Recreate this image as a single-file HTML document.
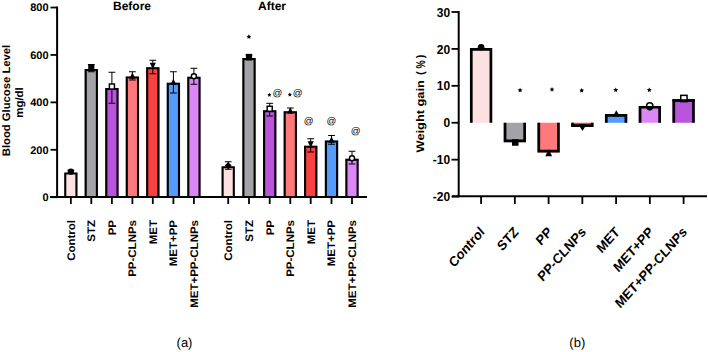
<!DOCTYPE html>
<html><head><meta charset="utf-8"><style>
html,body{margin:0;padding:0;background:#fff;}
svg{display:block;font-family:"Liberation Sans", sans-serif;text-rendering:geometricPrecision;}
</style></head><body>
<svg width="708" height="352" viewBox="0 0 708 352" font-family='"Liberation Sans", sans-serif'>
<rect width="708" height="352" fill="#fff"/>
<rect x="64.20" y="172.50" width="13.30" height="24.60" fill="#fde0e1"/><path d="M65.25 197.10V173.55H76.45V197.10" fill="none" stroke="#000" stroke-width="2.1" stroke-linejoin="miter"/>
<rect x="84.65" y="69.00" width="13.30" height="128.10" fill="#a3a2a7"/><path d="M85.70 197.10V70.05H96.90V197.10" fill="none" stroke="#000" stroke-width="2.1" stroke-linejoin="miter"/>
<rect x="105.25" y="88.00" width="13.30" height="109.10" fill="#b954dc"/><path d="M106.30 197.10V89.05H117.50V197.10" fill="none" stroke="#000" stroke-width="2.1" stroke-linejoin="miter"/>
<rect x="125.75" y="76.50" width="13.30" height="120.60" fill="#ff797c"/><path d="M126.80 197.10V77.55H138.00V197.10" fill="none" stroke="#000" stroke-width="2.1" stroke-linejoin="miter"/>
<rect x="146.15" y="67.25" width="13.30" height="129.85" fill="#f94141"/><path d="M147.20 197.10V68.30H158.40V197.10" fill="none" stroke="#000" stroke-width="2.1" stroke-linejoin="miter"/>
<rect x="166.75" y="82.75" width="13.30" height="114.35" fill="#549bfb"/><path d="M167.80 197.10V83.80H179.00V197.10" fill="none" stroke="#000" stroke-width="2.1" stroke-linejoin="miter"/>
<rect x="187.25" y="76.75" width="13.30" height="120.35" fill="#db87f6"/><path d="M188.30 197.10V77.80H199.50V197.10" fill="none" stroke="#000" stroke-width="2.1" stroke-linejoin="miter"/>
<rect x="221.55" y="166.25" width="13.30" height="30.85" fill="#fde0e1"/><path d="M222.60 197.10V167.30H233.80V197.10" fill="none" stroke="#000" stroke-width="2.1" stroke-linejoin="miter"/>
<rect x="242.35" y="57.95" width="13.30" height="139.15" fill="#a3a2a7"/><path d="M243.40 197.10V59.00H254.60V197.10" fill="none" stroke="#000" stroke-width="2.1" stroke-linejoin="miter"/>
<rect x="263.05" y="110.25" width="13.30" height="86.85" fill="#b954dc"/><path d="M264.10 197.10V111.30H275.30V197.10" fill="none" stroke="#000" stroke-width="2.1" stroke-linejoin="miter"/>
<rect x="283.65" y="111.25" width="13.30" height="85.85" fill="#ff797c"/><path d="M284.70 197.10V112.30H295.90V197.10" fill="none" stroke="#000" stroke-width="2.1" stroke-linejoin="miter"/>
<rect x="304.05" y="145.75" width="13.30" height="51.35" fill="#f94141"/><path d="M305.10 197.10V146.80H316.30V197.10" fill="none" stroke="#000" stroke-width="2.1" stroke-linejoin="miter"/>
<rect x="324.85" y="140.50" width="13.30" height="56.60" fill="#549bfb"/><path d="M325.90 197.10V141.55H337.10V197.10" fill="none" stroke="#000" stroke-width="2.1" stroke-linejoin="miter"/>
<rect x="345.35" y="158.75" width="13.30" height="38.35" fill="#db87f6"/><path d="M346.40 197.10V159.80H357.60V197.10" fill="none" stroke="#000" stroke-width="2.1" stroke-linejoin="miter"/>
<path d="M70.85 170.2V173M67.44999999999999 170.2H74.25M67.44999999999999 173H74.25" stroke="#000" stroke-width="1" fill="none"/>
<circle cx="70.85" cy="171.6" r="3.1" fill="#000"/>
<path d="M91.3 64.5V71.75M87.89999999999999 64.5H94.7M87.89999999999999 71.75H94.7" stroke="#000" stroke-width="1" fill="none"/>
<rect x="88.2" y="64.9" width="6.2" height="6.2" fill="#000"/>
<path d="M111.9 72.25V103.25M108.5 72.25H115.30000000000001M108.5 103.25H115.30000000000001" stroke="#000" stroke-width="1" fill="none"/>
<rect x="109.375" y="83.975" width="5.05" height="5.05" fill="#fff" stroke="#000" stroke-width="1.45"/>
<path d="M132.4 71.75V80M129.0 71.75H135.8M129.0 80H135.8" stroke="#000" stroke-width="1" fill="none"/>
<path d="M129.3 78.69000000000001L135.5 78.69000000000001L132.4 72.49000000000001Z" fill="#000"/>
<path d="M152.8 60.25V73.75M149.4 60.25H156.20000000000002M149.4 73.75H156.20000000000002" stroke="#000" stroke-width="1" fill="none"/>
<path d="M149.70000000000002 62.86000000000001L155.9 62.86000000000001L152.8 69.06Z" fill="#000"/>
<path d="M173.4 71.75V93M170.0 71.75H176.8M170.0 93H176.8" stroke="#000" stroke-width="1" fill="none"/>
<path d="M170.3 84.94000000000001L176.5 84.94000000000001L173.4 78.74000000000001Z" fill="#000"/>
<path d="M193.9 68.25V84.25M190.5 68.25H197.3M190.5 84.25H197.3" stroke="#000" stroke-width="1" fill="none"/>
<circle cx="193.9" cy="76.25" r="2.525" fill="#fff" stroke="#000" stroke-width="1.45"/>
<path d="M228.2 161.75V169.25M224.79999999999998 161.75H231.6M224.79999999999998 169.25H231.6" stroke="#000" stroke-width="1" fill="none"/>
<path d="M224.79999999999998 165.55L228.2 161.95000000000002L231.6 165.55L228.2 169.15Z" fill="#000"/>
<path d="M249.0 55V60M245.6 55H252.4M245.6 60H252.4" stroke="#000" stroke-width="1" fill="none"/>
<rect x="245.9" y="53.85" width="6.2" height="6.2" fill="#000"/>
<path d="M269.7 103.3V116M266.3 103.3H273.09999999999997M266.3 116H273.09999999999997" stroke="#000" stroke-width="1" fill="none"/>
<rect x="267.175" y="106.225" width="5.05" height="5.05" fill="#fff" stroke="#000" stroke-width="1.45"/>
<path d="M290.3 108V113M286.90000000000003 108H293.7M286.90000000000003 113H293.7" stroke="#000" stroke-width="1" fill="none"/>
<path d="M287.2 113.44000000000001L293.40000000000003 113.44000000000001L290.3 107.24000000000001Z" fill="#000"/>
<path d="M310.7 138.75V152M307.3 138.75H314.09999999999997M307.3 152H314.09999999999997" stroke="#000" stroke-width="1" fill="none"/>
<path d="M307.59999999999997 141.36L313.8 141.36L310.7 147.56Z" fill="#000"/>
<path d="M331.5 135.5V144.25M328.1 135.5H334.9M328.1 144.25H334.9" stroke="#000" stroke-width="1" fill="none"/>
<path d="M328.4 142.69L334.6 142.69L331.5 136.49Z" fill="#000"/>
<path d="M352.0 151.25V164M348.6 151.25H355.4M348.6 164H355.4" stroke="#000" stroke-width="1" fill="none"/>
<circle cx="352.0" cy="158.25" r="2.525" fill="#fff" stroke="#000" stroke-width="1.45"/>
<path d="M57.1 6.5V198.1" stroke="#000" stroke-width="2" fill="none"/>
<path d="M50 197.1H367" stroke="#000" stroke-width="2" fill="none"/>
<path d="M50.5 7.52H57" stroke="#000" stroke-width="1.8"/>
<text x="48.6" y="11.42" text-anchor="end" font-size="11" font-weight="bold">800</text>
<path d="M50.5 54.94H57" stroke="#000" stroke-width="1.8"/>
<text x="48.6" y="58.84" text-anchor="end" font-size="11" font-weight="bold">600</text>
<path d="M50.5 102.36H57" stroke="#000" stroke-width="1.8"/>
<text x="48.6" y="106.26" text-anchor="end" font-size="11" font-weight="bold">400</text>
<path d="M50.5 149.78H57" stroke="#000" stroke-width="1.8"/>
<text x="48.6" y="153.68" text-anchor="end" font-size="11" font-weight="bold">200</text>
<path d="M50.5 197.20H57" stroke="#000" stroke-width="1.8"/>
<text x="48.6" y="201.10" text-anchor="end" font-size="11" font-weight="bold">0</text>
<path d="M70.85 197.1V204" stroke="#000" stroke-width="1.8"/>
<path d="M91.3 197.1V204" stroke="#000" stroke-width="1.8"/>
<path d="M111.9 197.1V204" stroke="#000" stroke-width="1.8"/>
<path d="M132.4 197.1V204" stroke="#000" stroke-width="1.8"/>
<path d="M152.8 197.1V204" stroke="#000" stroke-width="1.8"/>
<path d="M173.4 197.1V204" stroke="#000" stroke-width="1.8"/>
<path d="M193.9 197.1V204" stroke="#000" stroke-width="1.8"/>
<path d="M228.2 197.1V204" stroke="#000" stroke-width="1.8"/>
<path d="M249.0 197.1V204" stroke="#000" stroke-width="1.8"/>
<path d="M269.7 197.1V204" stroke="#000" stroke-width="1.8"/>
<path d="M290.3 197.1V204" stroke="#000" stroke-width="1.8"/>
<path d="M310.7 197.1V204" stroke="#000" stroke-width="1.8"/>
<path d="M331.5 197.1V204" stroke="#000" stroke-width="1.8"/>
<path d="M352.0 197.1V204" stroke="#000" stroke-width="1.8"/>
<text transform="translate(74.75,220) scale(1,1.045) rotate(-90)" text-anchor="end" font-size="11" font-weight="bold">Control</text>
<text transform="translate(95.20,220) scale(1,1.045) rotate(-90)" text-anchor="end" font-size="11" font-weight="bold">STZ</text>
<text transform="translate(115.80,220) scale(1,1.045) rotate(-90)" text-anchor="end" font-size="11" font-weight="bold">PP</text>
<text transform="translate(136.30,220) scale(1,1.045) rotate(-90)" text-anchor="end" font-size="11" font-weight="bold">PP-CLNPs</text>
<text transform="translate(156.70,220) scale(1,1.045) rotate(-90)" text-anchor="end" font-size="11" font-weight="bold">MET</text>
<text transform="translate(177.30,220) scale(1,1.045) rotate(-90)" text-anchor="end" font-size="11" font-weight="bold">MET+PP</text>
<text transform="translate(197.80,220) scale(1,1.045) rotate(-90)" text-anchor="end" font-size="11" font-weight="bold">MET+PP-CLNPs</text>
<text transform="translate(232.10,220) scale(1,1.045) rotate(-90)" text-anchor="end" font-size="11" font-weight="bold">Control</text>
<text transform="translate(252.90,220) scale(1,1.045) rotate(-90)" text-anchor="end" font-size="11" font-weight="bold">STZ</text>
<text transform="translate(273.60,220) scale(1,1.045) rotate(-90)" text-anchor="end" font-size="11" font-weight="bold">PP</text>
<text transform="translate(294.20,220) scale(1,1.045) rotate(-90)" text-anchor="end" font-size="11" font-weight="bold">PP-CLNPs</text>
<text transform="translate(314.60,220) scale(1,1.045) rotate(-90)" text-anchor="end" font-size="11" font-weight="bold">MET</text>
<text transform="translate(335.40,220) scale(1,1.045) rotate(-90)" text-anchor="end" font-size="11" font-weight="bold">MET+PP</text>
<text transform="translate(355.90,220) scale(1,1.045) rotate(-90)" text-anchor="end" font-size="11" font-weight="bold">MET+PP-CLNPs</text>
<text x="132" y="10" text-anchor="middle" font-size="12" font-weight="bold">Before</text>
<text x="272" y="10" text-anchor="middle" font-size="12" font-weight="bold">After</text>
<polygon points="248.90,34.20 249.63,35.69 251.28,35.93 250.09,37.09 250.37,38.72 248.90,37.95 247.43,38.72 247.71,37.09 246.52,35.93 248.17,35.69" fill="#000"/>
<polygon points="269.35,92.75 270.00,94.06 271.44,94.27 270.40,95.29 270.64,96.73 269.35,96.05 268.06,96.73 268.30,95.29 267.26,94.27 268.70,94.06" fill="#000"/>
<polygon points="289.85,92.40 290.50,93.71 291.94,93.92 290.90,94.94 291.14,96.38 289.85,95.70 288.56,96.38 288.80,94.94 287.76,93.92 289.20,93.71" fill="#000"/>
<text x="277.4" y="96.0" text-anchor="middle" font-size="9.7">@</text>
<text x="297.75" y="96.0" text-anchor="middle" font-size="9.7">@</text>
<text x="308.6" y="123.5" text-anchor="middle" font-size="9.7">@</text>
<text x="331.3" y="123.5" text-anchor="middle" font-size="9.7">@</text>
<text x="355.6" y="134.4" text-anchor="middle" font-size="9.7">@</text>
<text transform="translate(9.5,100.5) scale(1,1.025) rotate(-90)" text-anchor="middle" font-size="11" font-weight="bold">Blood Glucose Level</text>
<text transform="translate(22.7,102.5) scale(1,1.04) rotate(-90)" text-anchor="middle" font-size="11" font-weight="bold">mg/dl</text>
<rect x="469.95" y="48.10" width="22.30" height="74.65" fill="#fde0e1"/><path d="M471.30 122.75V49.45H490.90V122.75" fill="none" stroke="#000" stroke-width="2.7" stroke-linejoin="miter"/>
<rect x="503.70" y="122.75" width="22.30" height="19.50" fill="#a3a2a7"/><path d="M505.05 122.75V140.90H524.65V122.75" fill="none" stroke="#000" stroke-width="2.7" stroke-linejoin="miter"/>
<rect x="537.45" y="122.75" width="22.30" height="29.75" fill="#ff797c"/><path d="M538.80 122.75V151.15H558.40V122.75" fill="none" stroke="#000" stroke-width="2.7" stroke-linejoin="miter"/>
<rect x="571.20" y="122.75" width="22.30" height="4.25" fill="#f94141"/><path d="M572.55 122.75V125.65H592.15V122.75" fill="none" stroke="#000" stroke-width="2.7" stroke-linejoin="miter"/>
<rect x="604.95" y="114.10" width="22.30" height="8.65" fill="#549bfb"/><path d="M606.30 122.75V115.45H625.90V122.75" fill="none" stroke="#000" stroke-width="2.7" stroke-linejoin="miter"/>
<rect x="638.70" y="105.90" width="22.30" height="16.85" fill="#db87f6"/><path d="M640.05 122.75V107.25H659.65V122.75" fill="none" stroke="#000" stroke-width="2.7" stroke-linejoin="miter"/>
<rect x="672.45" y="99.25" width="22.30" height="23.50" fill="#b954dc"/><path d="M673.80 122.75V100.60H693.40V122.75" fill="none" stroke="#000" stroke-width="2.7" stroke-linejoin="miter"/>
<circle cx="481.1" cy="47.3" r="3.3" fill="#000"/>
<rect x="512.0" y="139.25" width="6.5" height="6.5" fill="#000"/>
<path d="M545.3 156.3H552.1L548.7 149Z" fill="#000"/>
<path d="M578.1 124.1H586.9L582.5 130.9Z" fill="#000"/>
<path d="M612.8 116.5H619.8L616.3 110.3Z" fill="#000"/>
<circle cx="649.75" cy="105.9" r="3.15" fill="#fff" stroke="#000" stroke-width="1.5"/>
<path d="M646.8 106H652.7V108.2A3 3 0 0 1 646.8 108.2Z" fill="#000"/>
<path d="M639.2 105.90" />
<rect x="680.75" y="95.35" width="6.3" height="6.3" fill="#fff" stroke="#000" stroke-width="1.5"/>
<path d="M672.5 100.5H694.75" stroke="#000" stroke-width="2.5"/>
<path d="M458.7 11V197.2" stroke="#000" stroke-width="2" fill="none"/>
<path d="M452 196.25H707" stroke="#000" stroke-width="2" fill="none"/>
<path d="M451.5 11.99H458.7" stroke="#000" stroke-width="1.8"/>
<text transform="translate(450.2,11.99) scale(1,1.08)" x="0" y="4.3" text-anchor="end" font-size="12" font-weight="bold">30</text>
<path d="M451.5 48.91H458.7" stroke="#000" stroke-width="1.8"/>
<text transform="translate(450.2,48.91) scale(1,1.08)" x="0" y="4.3" text-anchor="end" font-size="12" font-weight="bold">20</text>
<path d="M451.5 85.83H458.7" stroke="#000" stroke-width="1.8"/>
<text transform="translate(450.2,85.83) scale(1,1.08)" x="0" y="4.3" text-anchor="end" font-size="12" font-weight="bold">10</text>
<path d="M451.5 122.75H458.7" stroke="#000" stroke-width="1.8"/>
<text transform="translate(450.2,122.75) scale(1,1.08)" x="0" y="4.3" text-anchor="end" font-size="12" font-weight="bold">0</text>
<path d="M451.5 159.67H458.7" stroke="#000" stroke-width="1.8"/>
<text transform="translate(450.2,159.67) scale(1,1.08)" x="0" y="4.3" text-anchor="end" font-size="12" font-weight="bold">-10</text>
<path d="M451.5 196.59H458.7" stroke="#000" stroke-width="1.8"/>
<text transform="translate(450.2,196.59) scale(1,1.08)" x="0" y="4.3" text-anchor="end" font-size="12" font-weight="bold">-20</text>
<path d="M481.10 196.25V204" stroke="#000" stroke-width="1.8"/>
<path d="M514.85 196.25V204" stroke="#000" stroke-width="1.8"/>
<path d="M548.60 196.25V204" stroke="#000" stroke-width="1.8"/>
<path d="M582.35 196.25V204" stroke="#000" stroke-width="1.8"/>
<path d="M616.10 196.25V204" stroke="#000" stroke-width="1.8"/>
<path d="M649.85 196.25V204" stroke="#000" stroke-width="1.8"/>
<path d="M683.60 196.25V204" stroke="#000" stroke-width="1.8"/>
<text transform="translate(485.30,232.8) scale(1,1.13) rotate(-45)" text-anchor="end" font-size="12.5" font-weight="bold">Control</text>
<text transform="translate(519.05,232.8) scale(1,1.13) rotate(-45)" text-anchor="end" font-size="12.5" font-weight="bold">STZ</text>
<text transform="translate(552.80,232.8) scale(1,1.13) rotate(-45)" text-anchor="end" font-size="12.5" font-weight="bold">PP</text>
<text transform="translate(586.55,232.8) scale(1,1.13) rotate(-45)" text-anchor="end" font-size="12.5" font-weight="bold">PP-CLNPs</text>
<text transform="translate(620.30,232.8) scale(1,1.13) rotate(-45)" text-anchor="end" font-size="12.5" font-weight="bold">MET</text>
<text transform="translate(654.05,232.8) scale(1,1.13) rotate(-45)" text-anchor="end" font-size="12.5" font-weight="bold">MET+PP</text>
<text transform="translate(687.80,232.8) scale(1,1.13) rotate(-45)" text-anchor="end" font-size="12.5" font-weight="bold">MET+PP-CLNPs</text>
<polygon points="520.10,87.80 520.83,89.29 522.48,89.53 521.29,90.69 521.57,92.32 520.10,91.55 518.63,92.32 518.91,90.69 517.72,89.53 519.37,89.29" fill="#000"/>
<polygon points="552.00,86.90 552.73,88.39 554.38,88.63 553.19,89.79 553.47,91.42 552.00,90.65 550.53,91.42 550.81,89.79 549.62,88.63 551.27,88.39" fill="#000"/>
<polygon points="581.70,88.00 582.43,89.49 584.08,89.73 582.89,90.89 583.17,92.52 581.70,91.75 580.23,92.52 580.51,90.89 579.32,89.73 580.97,89.49" fill="#000"/>
<polygon points="615.75,87.50 616.48,88.99 618.13,89.23 616.94,90.39 617.22,92.02 615.75,91.25 614.28,92.02 614.56,90.39 613.37,89.23 615.02,88.99" fill="#000"/>
<polygon points="649.30,87.50 650.03,88.99 651.68,89.23 650.49,90.39 650.77,92.02 649.30,91.25 647.83,92.02 648.11,90.39 646.92,89.23 648.57,88.99" fill="#000"/>
<text transform="translate(424.0,152.4) rotate(-90)" font-size="11" font-weight="bold" textLength="72.2" lengthAdjust="spacingAndGlyphs">Weight gain</text>
<text transform="translate(424.0,75.0) rotate(-90)" font-size="11" font-weight="bold">(</text>
<text transform="translate(424.6,68.5) rotate(-90) scale(0.72,1)" font-size="12.8" font-weight="bold">%</text>
<text transform="translate(424.0,58.2) rotate(-90)" font-size="11" font-weight="bold">)</text>
<text x="184.5" y="347.2" text-anchor="middle" font-size="13">(a)</text>
<text x="577.3" y="347.2" text-anchor="middle" font-size="13">(b)</text>
</svg>
</body></html>
